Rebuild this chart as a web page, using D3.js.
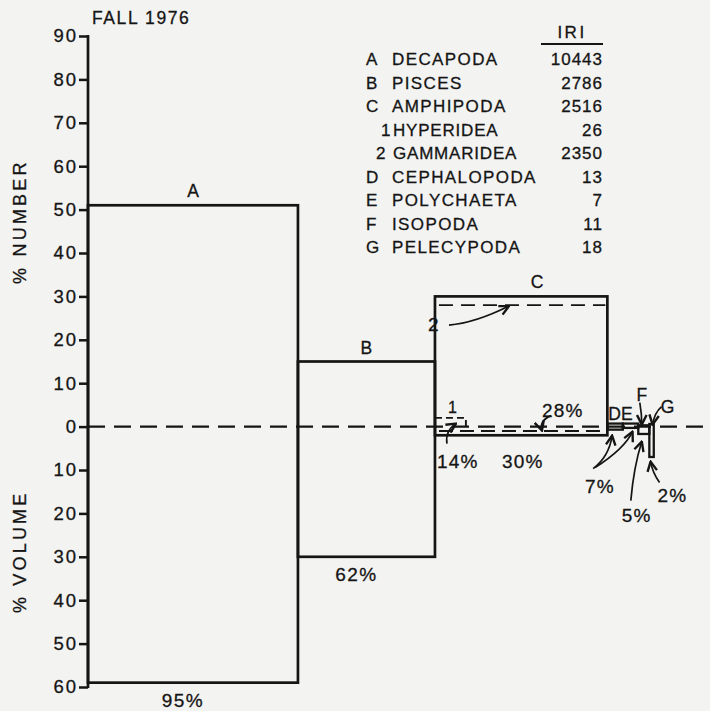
<!DOCTYPE html>
<html>
<head>
<meta charset="utf-8">
<script src="https://cdn.jsdelivr.net/npm/d3@7/dist/d3.min.js"></script>
<style>
  html, body { margin: 0; padding: 0; background: #f3f3f1; }
  svg { display: block; }
  text { font-family: "Liberation Sans", Arial, sans-serif; fill: #151515; stroke: #151515; stroke-width: 0.3px; }
</style>
</head>
<body>
<svg id="chart" width="710" height="711"></svg>
<script>
// Prey groups, fall 1976: % number (up), % volume (down), % frequency of occurrence (width)
const groups       = ["A", "B", "C", "D", "E", "F", "G"];
const pctNumber    = [51, 15, 30, 0.7, 0.7, 0.3, 0.6];
const pctVolume    = [59, 30, 2, 0.7, 0.3, 1.7, 7];
const pctFrequency = [95, 62, 78, 7, 7, 5, 2];

// Amphipoda subgroups drawn dashed inside bar C
const subGroups    = ["1", "2"];
const subNumber    = [2, 28];
const subVolume    = [0.4, 1];
const subFrequency = [14, 78];

// Legend table
const legendKeys  = ["A", "B", "C", "1", "2", "D", "E", "F", "G"];
const legendNames = ["DECAPODA", "PISCES", "AMPHIPODA", "HYPERIDEA", "GAMMARIDEA",
                     "CEPHALOPODA", "POLYCHAETA", "ISOPODA", "PELECYPODA"];
const legendIRI   = [10443, 2786, 2516, 26, 2350, 13, 7, 11, 18];

// Axis ticks
const numberTicks = [10, 20, 30, 40, 50, 60, 70, 80, 90];
const volumeTicks = [0, 10, 20, 30, 40, 50, 60];

const svg = d3.select("#chart");
const ink = "#151515";

const totalFreq = d3.sum(pctFrequency);
const x = d3.scaleLinear().domain([0, totalFreq + 2]).range([88, 88 + (totalFreq + 2) * 2.21]);
const y = d3.scaleLinear().domain([-60, 90]).range([687, 36]);

const starts = d3.cumsum([0, ...pctFrequency]).slice(0, groups.length);
const bars = groups.map((g, i) => ({
  key: g, n: pctNumber[i], v: pctVolume[i], f: pctFrequency[i], x0: starts[i]
}));

// Zero line (dashed) across the whole width
svg.append("line")
  .attr("x1", x(0)).attr("x2", 710)
  .attr("y1", y(0)).attr("y2", y(0))
  .attr("stroke", ink).attr("stroke-width", 2.3)
  .attr("stroke-dasharray", "17,9");

// Bars: height up = % number, down = % volume, width = % frequency
svg.append("g").selectAll("rect").data(bars).join("rect")
  .attr("x", d => x(d.x0))
  .attr("width", d => x(d.x0 + d.f) - x(d.x0))
  .attr("y", d => y(d.n))
  .attr("height", d => y(-d.v) - y(d.n))
  .attr("fill", "none")
  .attr("stroke", ink)
  .attr("stroke-width", (d, i) => i < 3 ? 2.7 : 2.3);

// Amphipoda subgroups
const cStart = starts[2];
const subs = subGroups.map((s, i) => ({ key: s, n: subNumber[i], v: subVolume[i], f: subFrequency[i] }));
const subG = svg.append("g").attr("fill", "none").attr("stroke", ink).attr("stroke-width", 1.9);
// Hyperidea: small dashed box at the left of C
subG.append("path")
  .attr("stroke-dasharray", "7,4")
  .attr("d", `M${x(cStart)},${y(subs[0].n)} H${x(cStart + subs[0].f)} V${y(-subs[0].v)}`);
// Gammaridea: dashed number line near top of C and dashed volume line below zero
subG.append("line")
  .attr("stroke-dasharray", "14,8")
  .attr("x1", x(cStart) + 4).attr("x2", x(cStart + subs[1].f) - 2)
  .attr("y1", y(subs[1].n)).attr("y2", y(subs[1].n));
subG.append("line")
  .attr("stroke-dasharray", "14,7")
  .attr("x1", x(cStart) + 4).attr("x2", x(cStart + subs[1].f) - 2)
  .attr("y1", y(-subs[1].v)).attr("y2", y(-subs[1].v));

// Y axis
const yAxisNum = d3.axisLeft(y).tickValues(numberTicks).tickSize(9).tickPadding(1).tickFormat(d => d);
const yAxisVol = d3.axisLeft(y).tickValues(volumeTicks.map(v => -v)).tickSize(9).tickPadding(1).tickFormat(d => Math.abs(d));
[yAxisNum, yAxisVol].forEach(ax => {
  const g = svg.append("g").attr("transform", `translate(${x(0)},0)`).call(ax);
  g.select(".domain").remove();
  g.selectAll(".tick line").attr("stroke", ink).attr("stroke-width", 2.5);
  g.selectAll(".tick text").attr("font-size", 18.5).attr("letter-spacing", 2).attr("fill", ink)
    .style("font-family", "'Liberation Sans', Arial, sans-serif");
});
svg.append("line")
  .attr("x1", x(0)).attr("x2", x(0))
  .attr("y1", y(90) - 1).attr("y2", y(-60) + 1)
  .attr("stroke", ink).attr("stroke-width", 2.7);

// Axis titles
svg.append("text")
  .attr("transform", `translate(26,${y(50) + 12}) rotate(-90)`)
  .attr("text-anchor", "middle").attr("font-size", 18).attr("letter-spacing", 3.2)
  .text("% NUMBER");
svg.append("text")
  .attr("transform", `translate(26,${y(-30) - 5}) rotate(-90)`)
  .attr("text-anchor", "middle").attr("font-size", 18).attr("letter-spacing", 3.2)
  .text("% VOLUME");

// Title
svg.append("text").attr("x", 92).attr("y", 24)
  .attr("font-size", 17.5).attr("letter-spacing", 1.6)
  .text("FALL 1976");

// Bar letters
const letterOffsets = { A: 0, B: 0, C: 16 };
bars.slice(0, 3).forEach(d => {
  svg.append("text")
    .attr("x", x(d.x0 + d.f / 2) + letterOffsets[d.key])
    .attr("y", y(d.n) - 8)
    .attr("text-anchor", "middle").attr("font-size", 17.5)
    .text(d.key);
});
// Frequency labels under A and B
bars.slice(0, 2).forEach(d => {
  svg.append("text")
    .attr("x", x(d.x0 + d.f / 2) - 10)
    .attr("y", y(-d.v) + 24)
    .attr("text-anchor", "middle").attr("font-size", 19).attr("letter-spacing", 1.5)
    .text(d.f + "%");
});

// Small-group letters
const xMid = i => x(starts[i] + pctFrequency[i] / 2);
svg.append("text").attr("x", x(starts[3]) + 1).attr("y", y(0) - 7)
  .attr("font-size", 17.5).attr("letter-spacing", 0).text("DE");
svg.append("text").attr("x", xMid(5) - 2).attr("y", y(0) - 26)
  .attr("text-anchor", "middle").attr("font-size", 17.5).text("F");
svg.append("text").attr("x", xMid(6) + 16).attr("y", y(0) - 14)
  .attr("text-anchor", "middle").attr("font-size", 17.5).text("G");

// Amphipoda and small-group annotations
const note = (tx, ty, s, size) => svg.append("text").attr("x", tx).attr("y", ty)
  .attr("font-size", size || 19).attr("letter-spacing", 1.2).text(s);
note(x(cStart) + 2, y(-subs[0].v) + 40, subs[0].f + "%");
note(x(cStart) + 67, y(-subs[0].v) + 40, "30%");
note(x(cStart) + 107, y(0) - 10, "28%");
note(x(cStart) + 13, y(subs[0].n) - 5, subs[0].key, 16);
note(x(cStart) - 7, y(subs[1].n) + 26, subs[1].key, 19);
note(xMid(3) - 30, y(0) + 66, pctFrequency[3] + "%");
note(xMid(5) - 22, y(0) + 95, pctFrequency[5] + "%");
note(xMid(6) + 6, y(0) + 75, pctFrequency[6] + "%");

// Pointer arrows
const defs = svg.append("defs");
defs.append("marker").attr("id", "tip")
  .attr("viewBox", "0 0 10 10").attr("refX", 9).attr("refY", 5)
  .attr("markerWidth", 7).attr("markerHeight", 7).attr("orient", "auto-start-reverse")
  .append("path").attr("d", "M1,1 L9,5 L1,9").attr("fill", "none")
  .attr("stroke", ink).attr("stroke-width", 2);

const arrow = (x0, y0, cx, cy, x1, y1) => svg.append("path")
  .attr("d", `M${x0},${y0} Q${cx},${cy} ${x1},${y1}`)
  .attr("fill", "none").attr("stroke", ink).attr("stroke-width", 1.7)
  .attr("marker-end", "url(#tip)");

const xc = x(cStart);
arrow(xc + 14, y(subs[1].n) + 20, xc + 40, y(subs[1].n) + 18, xc + 74, y(subs[1].n) + 1);
arrow(xc + 12, y(0) + 17, xc + 10, y(0) + 4, xc + 21, y(0) - 3);
arrow(xc + 116, y(0) - 11, xc + 104, y(0) - 6, xc + 107, y(0) + 4);
arrow(xMid(3) - 22, y(0) + 42, xMid(3) - 6, y(0) + 30, xMid(3) - 3, y(0) + 9);
arrow(xMid(3) - 20, y(0) + 41, xMid(4) - 6, y(0) + 22, xMid(4) + 2, y(0) + 5);
arrow(xMid(5) - 13, y(0) + 74, xMid(5) - 10, y(0) + 40, xMid(5) - 2, y(0) + 15);
arrow(xMid(6) + 8, y(0) + 56, xMid(6) + 1, y(0) + 46, xMid(6) - 1, y(0) + 35);
arrow(xMid(5) - 4, y(0) - 24, xMid(5) - 2, y(0) - 12, xMid(5) - 2, y(0) - 2);
arrow(xMid(6) + 10, y(0) - 20, xMid(6) + 3, y(0) - 14, xMid(6) + 1, y(0) - 2);

// Legend with IRI values
const lgX = 366, lgY = 65, lgStep = 23.5;
svg.append("text").attr("x", 572).attr("y", 38).attr("text-anchor", "middle")
  .attr("font-size", 17).attr("letter-spacing", 2.5).text("IRI");
svg.append("line").attr("x1", 541).attr("x2", 603).attr("y1", 44).attr("y2", 44)
  .attr("stroke", ink).attr("stroke-width", 1.9);
const lg = svg.append("g");
legendKeys.forEach((k, i) => {
  const sub = /\d/.test(k);
  lg.append("text").attr("x", sub ? (k === "1" ? 381 : 376) : lgX).attr("y", lgY + i * lgStep)
    .attr("font-size", 17).text(k);
  lg.append("text").attr("x", sub ? 393 : 392).attr("y", lgY + i * lgStep)
    .attr("font-size", 17).attr("letter-spacing", sub ? 0.8 : 1.4).text(legendNames[i]);
  lg.append("text").attr("x", 603).attr("y", lgY + i * lgStep).attr("text-anchor", "end")
    .attr("font-size", 17).attr("letter-spacing", 1).text(legendIRI[i]);
});
</script>
</body>
</html>
